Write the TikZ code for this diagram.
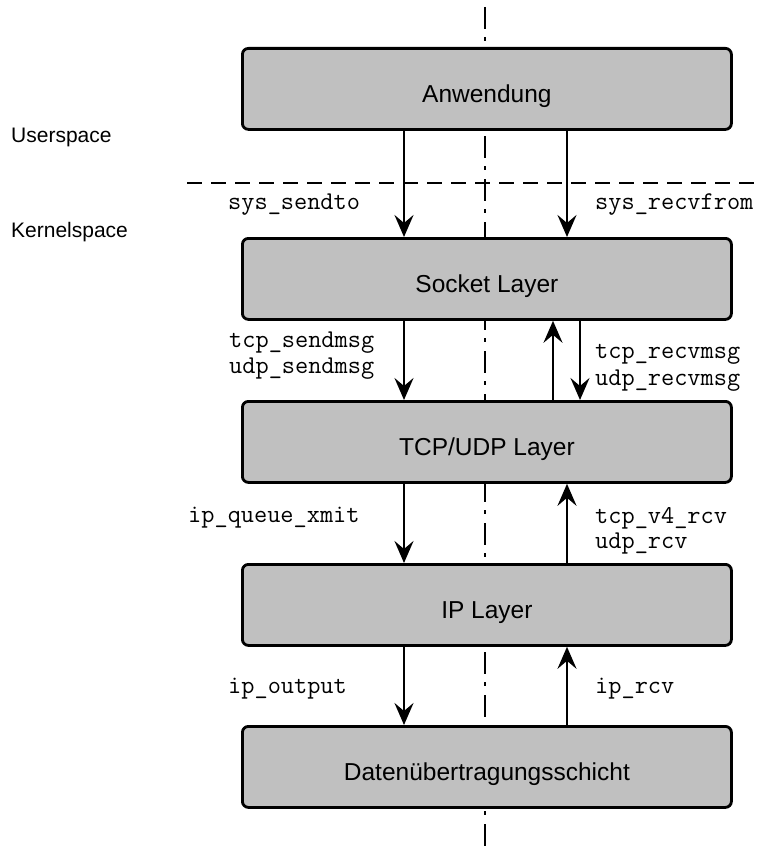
\documentclass[tikz,border=0pt]{standalone}
\usepackage{fontspec}
\setmainfont{Liberation Sans}
\usetikzlibrary{arrows.meta}

\begin{document}
\begin{tikzpicture}[x=1pt,y=-1pt,
  layerbox/.style={draw, line width=2.8pt, rounded corners=6pt, fill={rgb,255:red,192;green,192;blue,192},
    minimum width=489pt, minimum height=81pt, anchor=north west, inner sep=0pt,
    font=\fontsize{24.5}{29}\selectfont, text height=28pt, text depth=0pt},
  flow/.style={line width=2.6pt, -{Stealth[length=22pt,width=19pt,inset=8pt]}},
  fnlabel/.style={anchor=base west, inner sep=0pt, font=\ttfamily\fontsize{25.6}{30}\selectfont},
  sidelabel/.style={anchor=base west, inner sep=0pt, font=\fontsize{21}{25}\selectfont},
  axis/.style={line width=2.7pt, dash pattern=on 22pt off 8pt on 4pt off 9pt},
  split/.style={line width=2.6pt, dash pattern=on 15pt off 9pt}
]
\useasboundingbox (0,0) rectangle (761,851);

% centre axis behind the layers
\coordinate (axtop) at (485,7);
\coordinate (axbot) at (485,851);
\draw[axis] (axtop) -- (axbot);

% layers
\node[layerbox] (app)  at (241,47)  {Anwendung};
\node[layerbox] (sock) at (241,237) {Socket Layer};
\node[layerbox] (tcp)  at (241,400) {TCP/UDP Layer};
\node[layerbox] (ip)   at (241,563) {IP Layer};
\node[layerbox] (dll)  at (241,725) {Datenübertragungsschicht};

% user/kernel boundary
\coordinate (splitL) at (187,183);
\coordinate (splitR) at (761,183);
\draw[split] (splitL) -- (splitR);
\node[sidelabel] (us) at (11,142) {Userspace};
\node[sidelabel] (ks) at (11,237) {Kernelspace};

% x positions of the call paths
\coordinate (xs) at (404,0);
\coordinate (xr) at (567,0);
\coordinate (xu) at (553,0);
\coordinate (xd) at (580,0);

% send / receive paths
\draw[flow] (app.south -| xs) -- (sock.north -| xs);
\draw[flow] (app.south -| xr) -- (sock.north -| xr);

\draw[flow] (sock.south -| xs) -- (tcp.north -| xs);
\draw[flow] (tcp.north -| xu) -- (sock.south -| xu);
\draw[flow] (sock.south -| xd) -- (tcp.north -| xd);

\draw[flow] (tcp.south -| xs) -- (ip.north -| xs);
\draw[flow] (ip.north -| xr) -- (tcp.south -| xr);

\draw[flow] (ip.south -| xs) -- (dll.north -| xs);
\draw[flow] (dll.north -| xr) -- (ip.south -| xr);

% function names
\node[fnlabel] (l1)  at (228,209) {sys\_sendto};
\node[fnlabel] (l2)  at (595,209) {sys\_recvfrom};
\node[fnlabel] (l3)  at (229,347) {tcp\_sendmsg};
\node[fnlabel] (l4)  at (229,373) {udp\_sendmsg};
\node[fnlabel] (l5)  at (595,358) {tcp\_recvmsg};
\node[fnlabel] (l6)  at (595,385) {udp\_recvmsg};
\node[fnlabel] (l7)  at (188,522) {ip\_queue\_xmit};
\node[fnlabel] (l8)  at (595,523) {tcp\_v4\_rcv};
\node[fnlabel] (l9)  at (595,548) {udp\_rcv};
\node[fnlabel] (l10) at (228,693) {ip\_output};
\node[fnlabel] (l11) at (595,693) {ip\_rcv};
\end{tikzpicture}
\end{document}
